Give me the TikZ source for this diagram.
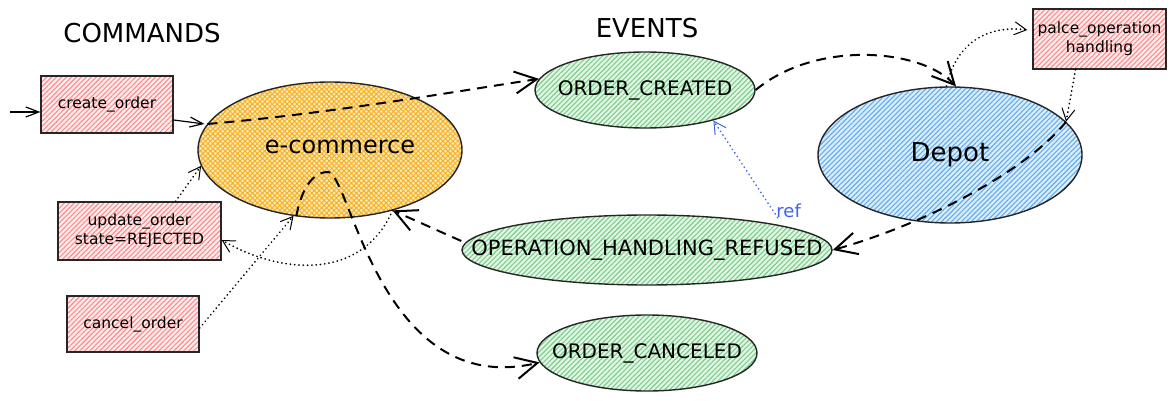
\documentclass[tikz,border=0pt]{standalone}
\usepackage{fontspec}
\setmainfont{DejaVu Sans}
\usetikzlibrary{shapes.geometric,arrows.meta,patterns.meta}
\definecolor{redline}{HTML}{FF8A8A}
\definecolor{redbg}{HTML}{FFEDED}
\definecolor{orline}{HTML}{F7B124}
\definecolor{orbg}{HTML}{FDE9BA}
\definecolor{blline}{HTML}{62ACEF}
\definecolor{blbg}{HTML}{DAEDFC}
\definecolor{grline}{HTML}{7ACF88}
\definecolor{grbg}{HTML}{E3F5E6}
\definecolor{refblue}{HTML}{4263EB}
\begin{document}
\begin{tikzpicture}[x=1pt,y=-1pt,
  title/.style={font=\fontsize{26}{28}\selectfont},
  cmdbox/.style={draw=black!85,line width=1.3pt,preaction={fill=redbg},
    pattern={Lines[angle=45,distance=3.5pt,line width=1.1pt]},pattern color=redline,
    font=\fontsize{15.5}{19}\selectfont,align=center,inner sep=0pt},
  shapebase/.style={ellipse,draw=black!85,line width=1.4pt,inner sep=0pt},
  evt/.style={shapebase,preaction={fill=grbg},
    pattern={Lines[angle=45,distance=3.5pt,line width=1.1pt]},pattern color=grline},
  evtext/.style={font=\fontsize{20}{22}\selectfont},
  ecomstyle/.style={shapebase,preaction={fill=orbg},
    pattern={Hatch[angle=45,distance=3.5pt,line width=1pt]},pattern color=orline},
  depotstyle/.style={shapebase,preaction={fill=blbg},
    pattern={Lines[angle=45,distance=3.5pt,line width=1.1pt]},pattern color=blline},
  thickdash/.style={line width=2pt,dash pattern=on 10pt off 7pt,
    -{Straight Barb[length=22pt,width=22pt,line width=2pt]}},
  thinarrow/.style={line width=1.2pt,-{Straight Barb[length=13pt,width=10pt,line width=1.2pt]}},
  dotarrow/.style={line width=1.7pt,dash pattern=on 0.3pt off 4pt,line cap=round,
    -{Straight Barb[length=12pt,width=13pt,line width=1pt]}},
]
\fill[white] (0,0) rectangle (1175,401);
\useasboundingbox (0,0) rectangle (1175,401);

% titles
\node[title] (cmds) at (142,33) {COMMANDS};
\node[title] (evts) at (647,28) {EVENTS};

% commands
\node[cmdbox,minimum width=132pt,minimum height=57pt] (create) at (107,104.5) {create\_order};
\node[cmdbox,minimum width=163pt,minimum height=58pt] (update) at (139.5,231) {update\_order\\state=REJECTED};
\node[cmdbox,minimum width=132pt,minimum height=56pt] (cancel) at (133,324) {cancel\_order};
\node[cmdbox,minimum width=133pt,minimum height=60pt] (palce) at (1099.5,39) {palce\_operation\\handling};

% services
\node[ecomstyle,minimum width=264pt,minimum height=136pt,
  label={[font=\fontsize{24}{26}\selectfont,xshift=10pt,yshift=3pt]center:e-commerce}] (ecom) at (330,150) {};
\node[depotstyle,minimum width=264pt,minimum height=136pt,
  label={[font=\fontsize{26}{28}\selectfont]center:Depot}] (depot) at (950,155) {};

% events
\node[evt,minimum width=220pt,minimum height=76pt,
  label={[evtext]center:ORDER\_CREATED}] (created) at (645,90) {};
\node[evt,minimum width=370pt,minimum height=70pt,
  label={[font=\fontsize{21}{23}\selectfont]center:OPERATION\_HANDLING\_REFUSED}] (refused) at (647,250) {};
\node[evt,minimum width=220pt,minimum height=76pt,
  label={[evtext]center:ORDER\_CANCELED}] (canceled) at (647,353) {};

% solid thin arrows
\coordinate (entry) at (10,112);
\draw[thinarrow] (entry) -- (entry -| create.west);
\draw[thinarrow] ([yshift=-15.5pt]create.east) -- ([xshift=-3pt]ecom.168);

% dashed flows
\draw[thickdash] (ecom.168) .. controls +(120,-10) and +(-80,12) .. (created.174);
\draw[thickdash] (created.east) .. controls +(60,-50) and +(-35,-38) .. (depot.85);
\draw[thickdash] (depot.16) .. controls +(-40,50) and +(90,-25) .. (refused.east);
\draw[thickdash] ([yshift=9pt]refused.west) -- (ecom.-44);
\coordinate (peak) at (328,172);
\draw[thickdash] (ecom.-117) .. controls +(5,-26) and +(-16,0) .. (peak)
  .. controls +(22,0) and +(-160,38) .. (canceled.185);

% dotted links
\draw[dotarrow] ([xshift=36pt]update.north) -- (ecom.187);
\draw[dotarrow] (ecom.-44) .. controls +(-30,70) and +(60,35) .. ([yshift=-9pt]update.east);
\draw[dotarrow] ([yshift=-4pt]cancel.east) -- (ecom.-119);
\draw[dotarrow] (depot.93) .. controls +(10,-45) and +(-38,-5) .. ([xshift=-5pt,yshift=9pt]palce.west);
\draw[dotarrow] ([xshift=-24pt]palce.south) -- (depot.16);
\draw[dotarrow,draw=refblue] ([yshift=7pt]refused.11) -- (created.-24)
  node[pos=0,anchor=south west,inner sep=1pt,xshift=-3pt,yshift=-2pt,text=refblue,
       font=\fontsize{18}{20}\selectfont] (reflabel) {ref};
\end{tikzpicture}
\end{document}
